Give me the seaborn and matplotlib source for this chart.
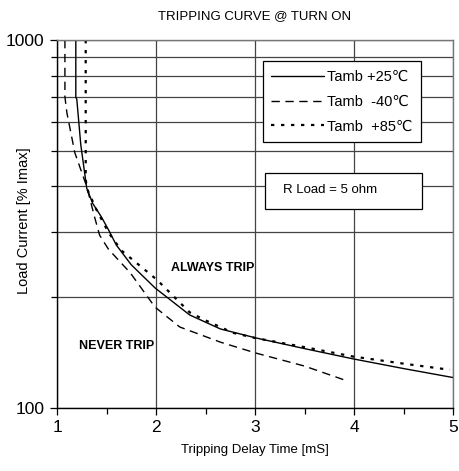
import matplotlib
matplotlib.use("Agg")
import matplotlib.pyplot as plt
import seaborn as sns
import pandas as pd
from matplotlib.ticker import FixedLocator, NullFormatter, FixedFormatter
from matplotlib.patches import Rectangle

sns.set_theme(style="white")
plt.rcParams['font.family'] = ['Liberation Sans', 'DejaVu Sans']

# +25 C (solid)
x_25 = [1.19, 1.19, 1.20, 1.24, 1.30, 1.36, 1.45, 1.52, 1.60, 1.75, 1.99, 2.34, 2.65, 3.01, 3.50, 3.99, 4.50, 5.00]
y_25 = [1000, 700, 690, 520, 396, 360, 330, 305, 277, 245, 212, 179, 164, 155, 145, 136, 128, 121]
# -40 C (dashed)
x_m40 = [1.08, 1.08, 1.10, 1.18, 1.30, 1.38, 1.43, 1.52, 1.74, 1.99, 2.24, 2.65, 3.01, 3.50, 3.91]
y_m40 = [1000, 700, 634, 494, 400, 330, 295, 270, 233, 188, 166, 151, 141, 130, 119]
# +85 C (dotted)
x_85 = [1.29, 1.29, 1.30, 1.40, 1.52, 1.65, 2.01, 2.34, 2.48, 2.78, 3.00, 3.52, 3.99, 4.50, 4.97]
y_85 = [1000, 420, 396, 345, 300, 268, 223, 182, 174, 160, 155, 146, 138, 132, 127]

labels = ["Tamb +25\u2103", "Tamb  -40\u2103", "Tamb  +85\u2103"]

fig = plt.figure(figsize=(4.59, 4.71), dpi=100)
ax = fig.add_axes([57/459, 63/471, 396/459, 368/471])

styles = [("-", 1.0), ((0, (6, 4)), 1.0), ((0, (1.5, 3)), 1.6)]
for (xs, ys), lab, (ls, lw) in zip([(x_25, y_25), (x_m40, y_m40), (x_85, y_85)], labels, styles):
    df = pd.DataFrame({"x": xs, "y": ys})
    sns.lineplot(data=df, x="x", y="y", ax=ax, color="black", linestyle=ls, linewidth=lw,
                 sort=False, estimator=None, label=lab)

ax.set_yscale("log")
ax.set_xlim(1, 5)
ax.set_ylim(100, 1000)
ax.yaxis.set_major_locator(FixedLocator([100, 1000]))
ax.yaxis.set_minor_locator(FixedLocator([200, 300, 400, 500, 600, 700, 800, 900]))
ax.yaxis.set_major_formatter(FixedFormatter(["100", "1000"]))
ax.yaxis.set_minor_formatter(NullFormatter())
ax.xaxis.set_major_locator(FixedLocator([1, 2, 3, 4, 5]))
ax.xaxis.set_minor_locator(FixedLocator([1.5, 2.5, 3.5, 4.5]))

ax.grid(True, which="both", axis="y", color="#444444", linewidth=0.9)
ax.grid(True, which="major", axis="x", color="#444444", linewidth=0.9)

for s in ["left", "bottom"]:
    ax.spines[s].set_color("black")
    ax.spines[s].set_linewidth(1.0)
for s in ["top", "right"]:
    ax.spines[s].set_color("#777777")
    ax.spines[s].set_linewidth(1.0)

ax.tick_params(axis="both", which="major", direction="out", length=5, width=0.9, color="black",
               labelsize=12.5, pad=4, bottom=True, left=True, labelcolor="black")
ax.tick_params(axis="both", which="minor", direction="out", length=4, width=0.9, color="black",
               bottom=True, left=True)

ax.set_xlabel("Tripping Delay Time [mS]", fontsize=9.5, labelpad=6, color="black")
ax.set_ylabel("Load Current [% Imax]", fontsize=10.5, color="black")
ax.yaxis.set_label_coords(-0.066, 0.51)
ax.set_title("TRIPPING CURVE @ TURN ON", fontsize=9.5, pad=15, color="black")

leg = ax.legend(loc="upper right", bbox_to_anchor=(0.919, 0.943),
                frameon=True, fancybox=False, fontsize=10.5, handlelength=3.6,
                borderpad=0.6, labelspacing=0.75, handletextpad=0.2, borderaxespad=0)
leg.get_frame().set_edgecolor("black")
leg.get_frame().set_linewidth(0.9)
leg.get_frame().set_alpha(1)
for t in leg.get_texts():
    t.set_color("black")

ax.add_patch(Rectangle((0.525, 0.541), 0.922 - 0.525, 0.639 - 0.541, transform=ax.transAxes,
                       facecolor="white", edgecolor="black", linewidth=0.9, zorder=5))
ax.text(0.571, 0.592, "R Load = 5 ohm", transform=ax.transAxes, fontsize=9.5,
        va="center", ha="left", color="black", zorder=6)
ax.text(2.57, 240, "ALWAYS TRIP", fontsize=9, fontweight="bold", ha="center", va="center", color="black")
ax.text(1.6, 147, "NEVER TRIP", fontsize=9, fontweight="bold", ha="center", va="center", color="black")

fig.savefig("out.png", dpi=100)
